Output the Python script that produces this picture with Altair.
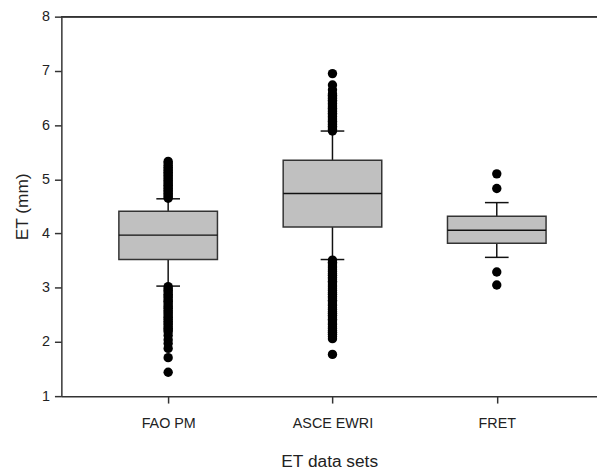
import altair as alt
import pandas as pd

# ---- data ----
categories = ["FAO PM", "ASCE EWRI", "FRET"]
positions = [1, 2, 3]
whisker_low = [3.03, 3.52, 3.56]
q1 = [3.52, 4.12, 3.82]
median = [3.97, 4.74, 4.06]
q3 = [4.41, 5.35, 4.32]
whisker_high = [4.64, 5.89, 4.57]

fao_outliers = [4.65, 4.68, 4.71, 4.74, 4.77, 4.80, 4.83, 4.86, 4.89, 4.92, 4.95, 4.98,
                5.01, 5.04, 5.07, 5.10, 5.13, 5.16, 5.19, 5.22, 5.26, 5.30, 5.33,
                3.02, 2.98, 2.95, 2.92, 2.88, 2.85, 2.82, 2.78, 2.75, 2.72, 2.68, 2.65,
                2.62, 2.58, 2.55, 2.52, 2.48, 2.45, 2.42, 2.38, 2.35, 2.32, 2.28, 2.25,
                2.22, 2.19, 2.12, 2.04, 1.97, 1.88, 1.71, 1.44]
asce_outliers = [5.89, 5.92, 5.95, 5.98, 6.01, 6.04, 6.07, 6.10, 6.13, 6.16, 6.19, 6.22,
                 6.25, 6.28, 6.31, 6.34, 6.37, 6.40, 6.43, 6.46, 6.49, 6.52, 6.55, 6.58,
                 6.65, 6.74, 6.95,
                 3.51, 3.47, 3.44, 3.40, 3.37, 3.33, 3.30, 3.26, 3.23, 3.19, 3.16, 3.12,
                 3.09, 3.05, 3.02, 2.98, 2.95, 2.91, 2.88, 2.84, 2.81, 2.77, 2.74, 2.70,
                 2.67, 2.63, 2.60, 2.56, 2.53, 2.49, 2.46, 2.42, 2.39, 2.35, 2.32, 2.28,
                 2.25, 2.21, 2.18, 2.14, 2.10, 2.06, 1.77]
fret_outliers = [5.10, 4.83, 3.29, 3.05]

y_ticks = [1, 2, 3, 4, 5, 6, 7, 8]

# ---- tables ----
BOX_HALF = 0.30
CAP_HALF = 0.072
box_df = pd.DataFrame({
    "cat": categories, "pos": positions, "lo": whisker_low, "q1": q1,
    "med": median, "q3": q3, "hi": whisker_high,
})
box_df["left"] = box_df["pos"] - BOX_HALF
box_df["right"] = box_df["pos"] + BOX_HALF
box_df["capl"] = box_df["pos"] - CAP_HALF
box_df["capr"] = box_df["pos"] + CAP_HALF

out_rows = []
for p, vals in zip(positions, [fao_outliers, asce_outliers, fret_outliers]):
    for v in vals:
        out_rows.append({"pos": p, "val": v})
out_df = pd.DataFrame(out_rows)

W, H = 542, 384
font = "Liberation Sans"
label_expr = "[" + ",".join("'" + c + "'" for c in categories) + "][datum.value - 1]"

x_scale = alt.Scale(domain=[0.35, 3.61], nice=False, zero=False)
y_scale = alt.Scale(domain=[1, 8], nice=False, zero=False)

x_axis = alt.Axis(values=positions, labelExpr=label_expr, title="ET data sets",
                  labelPadding=14, titlePadding=23)
y_axis = alt.Axis(values=y_ticks, format="d", title="ET (mm)", labelPadding=5,
                  titlePadding=10)

base = alt.Chart(box_df)

whisk_lo = base.mark_rule(color="#111", strokeWidth=1.5).encode(
    x=alt.X("pos:Q", scale=x_scale, axis=x_axis),
    y=alt.Y("lo:Q", scale=y_scale, axis=y_axis),
    y2="q1:Q",
)
whisk_hi = base.mark_rule(color="#111", strokeWidth=1.5).encode(
    x="pos:Q", y="q3:Q", y2="hi:Q")
cap_lo = base.mark_rule(color="#111", strokeWidth=1.5).encode(
    x="capl:Q", x2="capr:Q", y="lo:Q")
cap_hi = base.mark_rule(color="#111", strokeWidth=1.5).encode(
    x="capl:Q", x2="capr:Q", y="hi:Q")
box = base.mark_rect(fill="#c0c0c0", stroke="#333333", strokeWidth=1.5).encode(
    x="left:Q", x2="right:Q", y="q1:Q", y2="q3:Q")
med = base.mark_rule(color="#111", strokeWidth=1.5).encode(
    x="left:Q", x2="right:Q", y="med:Q")
pts = alt.Chart(out_df).mark_circle(size=90, color="black", opacity=1).encode(
    x="pos:Q", y="val:Q")
top_border = base.mark_rule(color="#333333", strokeWidth=1.5).encode(
    x=alt.value(0), x2=alt.value(W), y=alt.value(0))

chart = alt.layer(whisk_lo, whisk_hi, cap_lo, cap_hi, box, med, pts, top_border).properties(
    width=W, height=H,
    padding={"left": 54, "top": 6, "right": 0, "bottom": 74},
    autosize=alt.AutoSizeParams(type="none"),
).configure_view(stroke="transparent").configure_axis(
    grid=False,
    domainColor="#333333", domainWidth=1.5,
    tickColor="#333333", tickWidth=1.5, tickSize=7,
    labelFont=font, labelFontSize=14.5, labelColor="#222222",
    titleFont=font, titleFontSize=17.5, titleFontWeight="normal", titleColor="#222222",
)

chart.save("out.html", embed_options={"renderer": "svg", "actions": False})
